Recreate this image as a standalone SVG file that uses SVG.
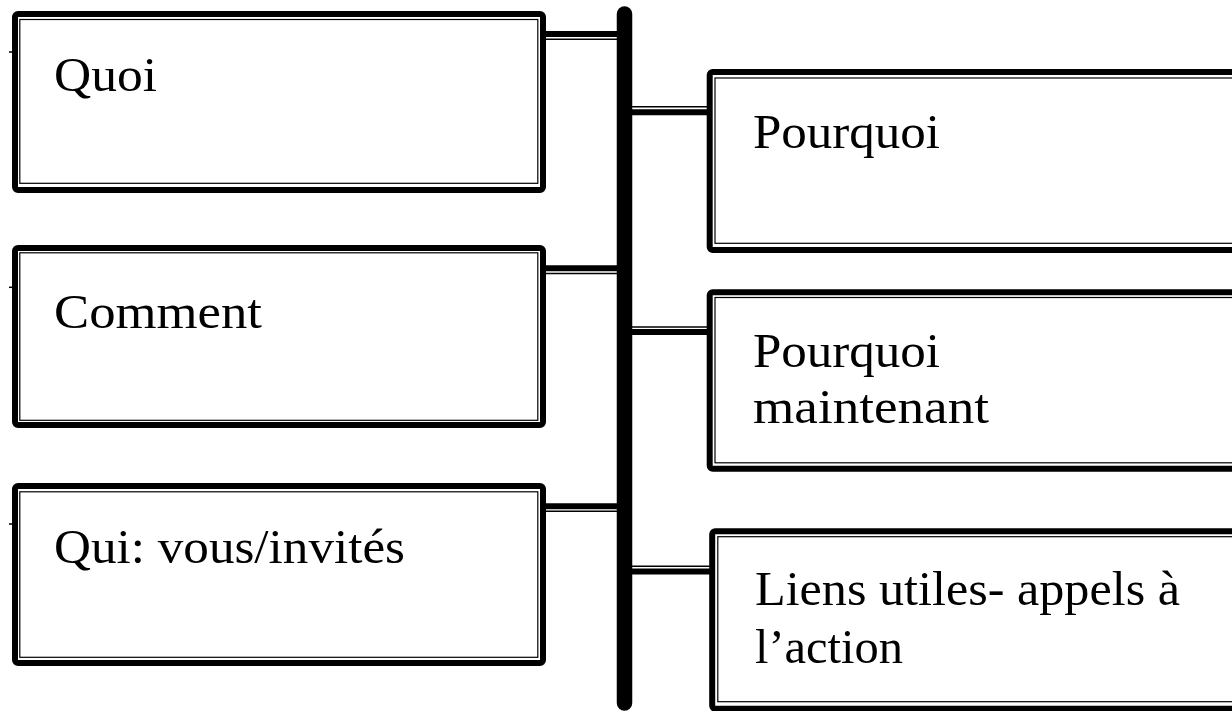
<svg xmlns="http://www.w3.org/2000/svg" width="1232" height="711" viewBox="0 0 1232 711">
<style>
.outer{fill:#fff;stroke:#000;stroke-width:6}
.inner{fill:none;stroke:#000;stroke-width:1.2}
.thick{stroke:#000;stroke-width:6;fill:none}
.thin{stroke:#000;stroke-width:1.5;fill:none}
.tick{stroke:#000;stroke-width:1.5}
.lbl{font-family:"Liberation Serif","Times New Roman",serif;font-size:48.5px;fill:#000}
</style>
<rect width="1232" height="711" fill="#fff"/>
<g id="connectors">
<line x1="624.5" y1="14" x2="624.5" y2="703" stroke="#000" stroke-width="15.5" stroke-linecap="round"/>
<line class="thick" x1="545" y1="34" x2="618" y2="34"/>
<line class="thin" x1="545" y1="39.3" x2="618" y2="39.3"/>
<line class="thick" x1="545" y1="268.3" x2="618" y2="268.3"/>
<line class="thin" x1="545" y1="273.5" x2="618" y2="273.5"/>
<line class="thick" x1="545" y1="506.2" x2="618" y2="506.2"/>
<line class="thin" x1="545" y1="511.3" x2="618" y2="511.3"/>
<line class="thin" x1="631" y1="106.8" x2="708" y2="106.8"/>
<line class="thick" x1="631" y1="112.2" x2="708" y2="112.2"/>
<line class="thin" x1="631" y1="327" x2="708" y2="327"/>
<line class="thick" x1="631" y1="332" x2="708" y2="332"/>
<line class="thin" x1="631" y1="566.2" x2="710" y2="566.2"/>
<line class="thick" x1="631" y1="571.5" x2="710" y2="571.5"/>
<line class="tick" x1="9" y1="52" x2="19" y2="52"/>
<line class="tick" x1="9" y1="287.3" x2="19" y2="287.3"/>
<line class="tick" x1="9" y1="524" x2="19" y2="524"/>
</g>
<g id="node-quoi">
<rect class="outer" x="15" y="14" width="528" height="176" rx="3"/>
<rect class="inner" x="19.8" y="19.5" width="518" height="163.8"/>
<text class="lbl" x="54" y="91" textLength="103" lengthAdjust="spacingAndGlyphs">Quoi</text>
</g>
<g id="node-comment">
<rect class="outer" x="15" y="248" width="528" height="177" rx="3"/>
<rect class="inner" x="19.8" y="252.8" width="518" height="167.5"/>
<text class="lbl" x="54" y="327.5" textLength="208" lengthAdjust="spacingAndGlyphs">Comment</text>
</g>
<g id="node-qui">
<rect class="outer" x="15" y="486" width="528" height="177" rx="3"/>
<rect class="inner" x="19.8" y="491.8" width="518" height="165.5"/>
<text class="lbl" x="54" y="563" textLength="351" lengthAdjust="spacingAndGlyphs">Qui: vous/invités</text>
</g>
<g id="node-pourquoi">
<rect class="outer" x="709.7" y="72" width="540" height="178" rx="3"/>
<rect class="inner" x="715" y="78" width="540" height="165.3"/>
<text class="lbl" x="753" y="148" textLength="187" lengthAdjust="spacingAndGlyphs">Pourquoi</text>
</g>
<g id="node-pourquoi-maintenant">
<rect class="outer" x="709.7" y="292.3" width="540" height="176.5" rx="3"/>
<rect class="inner" x="715" y="297.5" width="540" height="165.3"/>
<text class="lbl" x="753" y="366.7" textLength="187" lengthAdjust="spacingAndGlyphs">Pourquoi</text>
<text class="lbl" x="753" y="422.7" textLength="236" lengthAdjust="spacingAndGlyphs">maintenant</text>
</g>
<g id="node-liens">
<rect class="outer" x="712.2" y="531.3" width="540" height="177.5" rx="3"/>
<rect class="inner" x="717.8" y="536.7" width="540" height="165"/>
<text class="lbl" x="755" y="605" textLength="425" lengthAdjust="spacingAndGlyphs">Liens utiles- appels à</text>
<text class="lbl" x="755" y="663.3" textLength="148" lengthAdjust="spacingAndGlyphs">l’action</text>
</g>
</svg>
